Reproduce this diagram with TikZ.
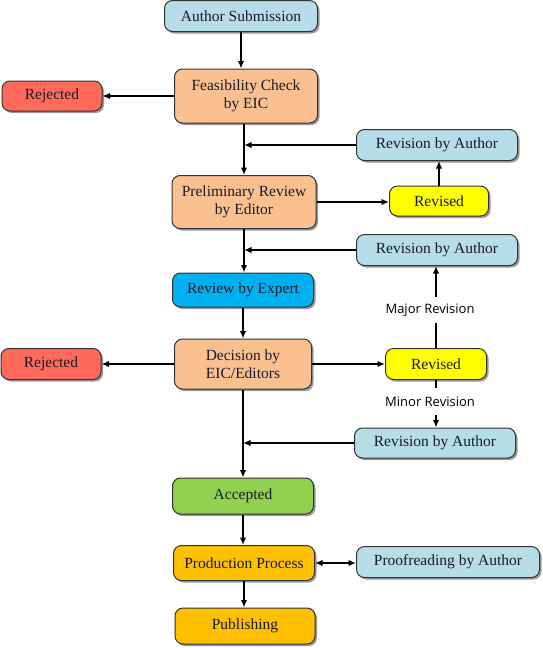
\documentclass[tikz,border=0pt]{standalone}
\usepackage{fontspec}
\setmainfont{Liberation Serif}
\newfontfamily\labelfont{Open Sans}
\usetikzlibrary{shadows,arrows.meta,calc}
\definecolor{cLBlue}{HTML}{B7DDE8}
\definecolor{cSalmon}{HTML}{FAC090}
\definecolor{cRed}{HTML}{FF6A5A}
\definecolor{cYellow}{HTML}{FFFF00}
\definecolor{cBlue}{HTML}{00B0F0}
\definecolor{cGreen}{HTML}{92D050}
\definecolor{cGold}{HTML}{FFC000}
\definecolor{cText}{HTML}{1A1A2A}
\begin{document}
\begin{tikzpicture}[x=1pt,y=-1pt,
  box/.style={draw=black!80, line width=1pt, rounded corners=8pt,
    drop shadow={shadow xshift=2pt,shadow yshift=-2pt,fill=black!50,opacity=0.8},
    align=center, font=\fontsize{15.5}{18.5}\selectfont, text=cText, inner sep=0pt},
  arr/.style={line width=2pt, -{Latex[length=7.5pt,width=6.5pt]}},
  dblarr/.style={line width=2pt, {Latex[length=7.5pt,width=6.5pt]}-{Latex[length=7.5pt,width=6.5pt]}},
  plain/.style={line width=2pt},
  lbl/.style={font=\labelfont\fontsize{13}{15}\selectfont, inner xsep=0pt, inner ysep=0pt, text=black}]
\useasboundingbox (0,0) rectangle (543,648);
\fill[white] (0,0) rectangle (543,648);

\node[box, fill=cLBlue, minimum width=153pt, minimum height=31pt] (sub) at (241,16) {Author Submission};
\node[box, fill=cSalmon, minimum width=143pt, minimum height=54pt] (feas) at (246,96) {Feasibility Check\\by EIC};
\node[box, fill=cRed, minimum width=100pt, minimum height=30pt] (rej1) at (52,96) {Rejected};
\node[box, fill=cLBlue, minimum width=161pt, minimum height=31pt] (rev1) at (437,145) {Revision by Author};
\node[box, fill=cSalmon, minimum width=144pt, minimum height=53pt] (prel) at (244,202) {Preliminary Review\\by Editor};
\node[box, fill=cYellow, minimum width=99pt, minimum height=30pt] (rsd1) at (439,201) {Revised};
\node[box, fill=cLBlue, minimum width=161pt, minimum height=31pt] (rev2) at (437,250) {Revision by Author};
\node[box, fill=cBlue, minimum width=141pt, minimum height=34pt] (exp) at (243,290) {Review by Expert};
\node[box, fill=cSalmon, minimum width=137pt, minimum height=50pt] (dec) at (243,364) {Decision by\\EIC/Editors};
\node[box, fill=cRed, minimum width=100pt, minimum height=31pt] (rej2) at (51,364) {Rejected};
\node[box, fill=cYellow, minimum width=101pt, minimum height=31pt] (rsd2) at (436,364) {Revised};
\node[box, fill=cLBlue, minimum width=161pt, minimum height=30pt] (rev3) at (435,443) {Revision by Author};
\node[box, fill=cGreen, minimum width=141pt, minimum height=36pt] (acc) at (243,496) {Accepted};
\node[box, fill=cGold, minimum width=141pt, minimum height=35pt] (prod) at (244,563) {Production Process};
\node[box, fill=cLBlue, minimum width=183pt, minimum height=31pt] (proof) at (448,562) {Proofreading by Author};
\node[box, fill=cGold, minimum width=140pt, minimum height=36pt] (pub) at (245,626) {Publishing};

\node[lbl, minimum height=26pt] (maj) at (430,310) {Major Revision};
\node[lbl, minimum height=27pt] (min) at (430,401.5) {Minor Revision};

% trunk
\draw[arr] (sub.south) -- (sub.south |- feas.north);
\draw[arr] (prel.north |- feas.south) -- (prel.north);
\draw[arr] (prel.south) -- (prel.south |- exp.north);
\draw[arr] (exp.south) -- (exp.south |- dec.north);
\draw[arr] (dec.south) -- (dec.south |- acc.north);
\draw[arr] (acc.south) -- (acc.south |- prod.north);
\draw[arr] (prod.south) -- (prod.south |- pub.north);

% side branches
\draw[arr] (feas.west) -- (feas.west -| rej1.east);
\draw[arr] (dec.west) -- (dec.west -| rej2.east);
\draw[arr] (prel.east) -- (prel.east -| rsd1.west);
\draw[arr] (dec.east) -- (dec.east -| rsd2.west);
\draw[arr] (rsd1.north) -- (rsd1.north |- rev1.south);
\draw[arr] (rev1.west) -- (rev1.west -| prel.north);
\draw[arr] (rev2.west) -- (rev2.west -| prel.south);
\draw[arr] (rev3.west) -- (rev3.west -| dec.south);
\draw[dblarr] (prod.east) -- (prod.east -| proof.west);

% revision paths
\draw[plain] (rsd2.north) -- (rsd2.north |- maj.south);
\draw[arr] (rsd2.north |- maj.north) -- (rsd2.north |- rev2.south);
\draw[plain] (rsd2.south) -- (rsd2.south |- min.north);
\draw[arr] (rsd2.south |- min.south) -- (rsd2.south |- rev3.north);
\end{tikzpicture}
\end{document}
